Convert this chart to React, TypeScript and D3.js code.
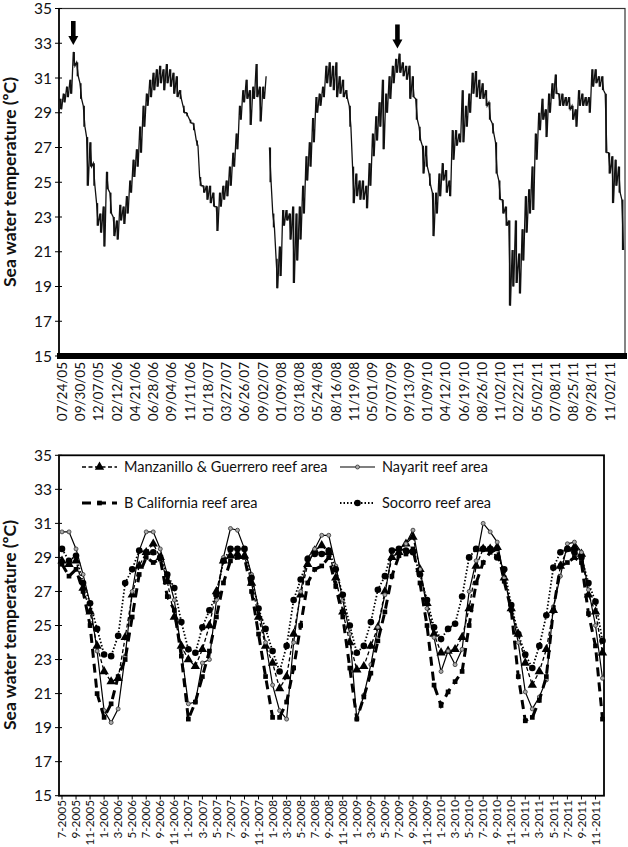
import * as d3 from 'd3';

// ---- top chart: hourly record, read as high/low pairs every ~3.3 px ----
const topTickLabels = [
  '07/24/05', '09/30/05', '12/07/05', '02/12/06', '04/21/06', '06/28/06', '09/04/06', '11/11/06',
  '01/18/07', '03/27/07', '06/26/07', '09/02/07', '01/09/08', '03/18/08', '05/24/08', '08/16/08',
  '11/19/08', '05/01/09', '07/07/09', '09/13/09', '01/09/10', '04/12/10', '06/19/10', '08/26/10',
  '11/02/10', '02/22/11', '05/02/11', '07/08/11', '08/25/11', '09/28/11', '11/02/11',
];

const topHigh: (number | null)[] = [
  29.8, 30.1, 30.5, 30.9, 32.5, 31.9, 30.7, 29.4, 27.6, 27.3, 26.1, 23.8, 23.2, 23.6, 25.6, 24.4,
  23.0, 22.8, 23.7, 23.6, 24.2, 25.1, 26.3, 26.9, 28.2, 29.4, 30.1, 30.9, 31.3, 31.5, 31.7, 31.5,
  31.8, 31.5, 31.3, 31.1, 30.3, 29.4, 29.0, 28.6, 28.4, 27.4, 25.3, 24.8, 24.8, 24.8, 24.4, 23.6,
  24.4, 24.8, 25.1, 25.9, 26.7, 27.8, 29.4, 30.3, 30.9, 30.3, 30.5, 31.8, 30.5, 30.5, 31.1,
  27.0, 23.2, 20.6, 21.3, 23.4, 23.4, 23.2, 23.6, 23.2, 23.6, 24.8, 26.5, 27.3,
  28.7, 29.9, 30.1, 30.5, 31.7, 31.9, 31.7, 31.9, 31.1, 30.9, 30.3, 29.4, 25.9, 25.5, 25.1, 25.1,
  24.8, 26.1, 27.8, 28.8, 29.6, 30.9, 30.1, 31.1, 31.7, 32.1, 32.4, 31.9, 31.7, 31.7, 31.1, 29.8,
  28.2, 27.1, 27.1, 25.5, 24.4, 24.4, 25.5, 26.1, 25.7, 25.1, 28.0, 28.0, 27.8, 30.3, 29.4, 30.1,
  31.3, 31.4, 30.9, 30.7, 30.3, 29.6, 28.4, 27.3, 25.1, 24.0, 23.6, 22.8, 21.1, 22.8, 20.9, 22.3,
  24.2, 24.6, 25.9, 27.8, 29.0, 29.8, 29.2, 30.1, 30.7, 31.2, 30.1, 30.1, 29.9, 29.9, 29.4, 29.2,
  30.3, 30.1, 29.9, 29.9, 31.5, 31.5, 31.1, 31.1, 30.1, 26.7, 26.5, 26.3, 25.9, 24.0,
];

const topLow: (number | null)[] = [
  29.2, 29.6, 29.9, 30.1, 31.7, 31.1, 29.8, 28.2, 24.8, 25.9, 24.8, 22.5, 22.1, 21.3, 24.6, 23.2,
  21.9, 21.7, 22.8, 22.6, 23.2, 24.4, 25.3, 25.9, 26.7, 28.2, 29.4, 29.9, 30.3, 30.5, 30.7, 30.3,
  30.7, 30.5, 30.1, 29.9, 29.8, 29.0, 28.8, 28.4, 28.0, 27.1, 24.8, 24.4, 24.0, 23.8, 23.6, 22.2,
  23.6, 24.0, 24.2, 24.8, 25.9, 26.9, 28.6, 29.6, 29.8, 28.3, 29.8, 29.9, 28.5, 29.8, null,
  25.0, 22.4, 18.9, 19.6, 22.5, 22.8, 21.7, 19.2, 20.5, 21.7, 23.2, 25.1, 25.9,
  27.3, 29.0, 29.4, 29.9, 30.7, 30.5, 30.3, 29.9, 30.1, 29.9, 29.8, 28.2, 23.8, 24.2, 24.0, 24.0,
  23.5, 24.8, 26.5, 27.4, 28.2, 26.9, 29.0, 29.8, 30.7, 31.3, 31.3, 31.1, 30.9, 29.8, 29.9, 28.6,
  27.4, 25.5, 25.9, 24.8, 21.9, 23.2, 24.2, 25.1, 24.4, 24.2, 26.3, 27.1, 27.3, 27.3, 28.2, 29.0,
  30.1, 29.9, 29.8, 29.8, 29.4, 28.6, 27.8, 25.5, 24.0, 23.2, 22.5, 17.9, 19.0, 19.2, 18.6, 20.5,
  22.1, 23.2, 23.4, 26.3, 28.0, 28.6, 27.6, 29.0, 29.8, 30.1, 29.4, 29.4, 29.4, 29.2, 28.6, 28.2,
  29.4, 29.4, 29.4, 29.0, 30.5, 30.7, 30.5, 30.3, 26.7, 25.5, 23.8, 24.8, 24.4, 21.1,
];

const arrowMarks = [
  { index: 4, value: 32.9 },
  { index: 101.5, value: 32.7 },
];

// ---- bottom chart: monthly means, 7-2005 .. 12-2011 ----
const monthTickLabels = [
  '7-2005', '9-2005', '11-2005',
  '1-2006', '3-2006', '5-2006', '7-2006', '9-2006', '11-2006',
  '1-2007', '3-2007', '5-2007', '7-2007', '9-2007', '11-2007',
  '1-2008', '3-2008', '5-2008', '7-2008', '9-2008', '11-2008',
  '1-2009', '3-2009', '5-2009', '7-2009', '9-2009', '11-2009',
  '1-2010', '3-2010', '5-2010', '7-2010', '9-2010', '11-2010',
  '1-2011', '3-2011', '5-2011', '7-2011', '9-2011', '11-2011',
];

const manzanillo = [
  28.8, 28.6, 28.8, 27.2, 25.8, 23.8,
  22.3, 21.7, 21.9, 24.3, 26.8, 28.5, 29.3, 29.8, 29.0, 27.6, 25.5, 23.8,
  23.0, 22.6, 23.6, 25.0, 27.0, 28.8, 29.1, 29.2, 29.1, 27.5, 25.5, 23.8,
  22.8, 21.3, 22.0, 24.5, 26.8, 28.6, 29.4, 29.7, 29.3, 27.8, 25.8, 24.0,
  22.4, 22.6, 23.8, 24.9, 27.0, 29.0, 29.3, 29.8, 30.2, 28.3, 26.3, 24.5,
  23.4, 23.5, 23.6, 24.3, 26.0, 28.5, 29.5, 29.5, 29.6, 27.8, 26.0, 24.5,
  22.8, 21.5, 22.3, 23.6, 25.9, 28.5, 29.5, 29.6, 29.2, 26.8, 25.8, 23.4,
];

const nayarit = [
  30.5, 30.5, 29.5, 28.0, 26.3, 23.5,
  20.0, 19.3, 20.1, 23.2, 27.0, 29.4, 30.5, 30.5, 29.5, 28.0, 26.5, 23.5,
  20.4, 20.5, 22.8, 23.0, 26.5, 29.0, 30.7, 30.6, 29.5, 28.0, 26.0, 24.0,
  21.5, 20.0, 19.5, 24.0, 27.0, 29.0, 29.5, 30.3, 30.3, 28.5, 26.5, 24.5,
  19.5, 20.9, 22.7, 24.9, 26.8, 29.3, 29.5, 29.8, 30.6, 28.3, 26.0, 24.3,
  22.3, 23.5, 22.7, 23.6, 27.0, 28.8, 31.0, 30.5, 29.9, 27.8, 26.0, 24.0,
  21.1, 20.1, 20.8, 21.8, 26.1, 27.9, 29.8, 29.9, 29.3, 27.1, 25.0, 21.9,
];

const bCalifornia = [
  28.6, 27.9, 28.3, 27.0, 25.0, 21.0,
  19.6, 20.4, 22.0, 23.0, 25.5, 28.0, 29.0, 28.7, 28.9, 26.7, 25.9, 23.2,
  19.5, 20.5, 22.0, 23.5, 25.5, 27.5, 28.8, 29.0, 29.0, 27.0, 24.5, 22.0,
  19.6, 19.6, 20.5, 22.5, 25.0, 27.5, 28.3, 28.5, 29.0, 27.3, 25.5, 22.5,
  19.5, 20.8, 22.2, 24.1, 25.8, 27.9, 29.1, 29.2, 29.5, 27.5, 25.0, 21.5,
  20.3, 21.1, 21.7, 22.3, 25.0, 27.5, 28.7, 29.3, 29.5, 27.6, 25.9, 22.0,
  19.4, 19.6, 20.6, 22.0, 25.9, 28.5, 28.7, 29.0, 28.7, 25.7, 23.8, 19.5,
];

const socorro = [
  29.5, 28.8, 29.1, 27.5, 26.3, 24.8,
  23.3, 23.2, 24.4, 27.5, 28.3, 29.4, 29.3, 29.3, 29.0, 28.0, 27.2, 25.2,
  23.6, 23.4, 24.9, 25.9, 26.8, 28.8, 29.5, 29.5, 29.5, 27.8, 26.0, 24.8,
  23.5, 22.3, 23.8, 26.5, 27.7, 28.9, 29.2, 29.2, 29.4, 28.3, 26.8, 25.0,
  23.4, 23.8, 25.2, 27.1, 27.9, 29.4, 29.5, 29.4, 29.3, 28.0, 26.5, 24.9,
  24.2, 24.8, 25.1, 26.7, 29.0, 29.5, 29.5, 29.5, 29.0, 28.3, 26.2, 24.5,
  23.3, 22.5, 23.8, 25.6, 28.4, 29.3, 29.5, 29.3, 29.0, 27.5, 26.4, 24.1,
];

const yTicks = [15, 17, 19, 21, 23, 25, 27, 29, 31, 33, 35];
const yTitle = 'Sea water temperature (ºC)';
const font = 'Lato, Calibri, "Open Sans", sans-serif';

type Series = {
  name: string;
  values: number[];
  width: number;
  dash: string;
  marker: 'triangle' | 'dot' | 'square' | 'circle';
};

const series: Series[] = [
  { name: 'Manzanillo & Guerrero reef area', values: manzanillo, width: 1.3, dash: '4,2.5', marker: 'triangle' },
  { name: 'Nayarit reef area', values: nayarit, width: 1.2, dash: '', marker: 'dot' },
  { name: 'B California reef area', values: bCalifornia, width: 3, dash: '9,6', marker: 'square' },
  { name: 'Socorro reef area', values: socorro, width: 1.8, dash: '1.5,2', marker: 'circle' },
];

function Marker({ kind, x, y }: { kind: Series['marker']; x: number; y: number }) {
  if (kind === 'triangle') {
    return <path d={d3.symbol(d3.symbolTriangle, 38)() || ''} transform={`translate(${x},${y})`} fill="#000" />;
  }
  if (kind === 'square') {
    return <path d={d3.symbol(d3.symbolSquare, 22)() || ''} transform={`translate(${x},${y})`} fill="#000" />;
  }
  if (kind === 'circle') {
    return <circle cx={x} cy={y} r={3.3} fill="#000" />;
  }
  return <circle cx={x} cy={y} r={2} fill="#aaa" stroke="#333" strokeWidth={0.8} />;
}

function YAxis({ y, left, titleY }: { y: d3.ScaleLinear<number, number>; left: number; titleY: number }) {
  return (
    <g>
      {yTicks.map(t => (
        <g key={t}>
          <line x1={left - 4} x2={left + 3} y1={y(t)} y2={y(t)} stroke="#000" strokeWidth={1} />
          <text x={left - 7} y={y(t)} dy="0.36em" textAnchor="end" fontSize={15.5} fontFamily={font} fill="#111">
            {t}
          </text>
        </g>
      ))}
      <text
        transform={`translate(16,${titleY}) rotate(-90)`}
        textAnchor="middle"
        fontSize={17.5}
        fontWeight="bold"
        fontFamily={font}
        fill="#111"
      >
        {yTitle}
      </text>
    </g>
  );
}

export default function App() {
  // top chart
  const topY = d3.scaleLinear().domain([15, 35]).range([356, 8.5]);
  const topX = d3.scaleLinear().domain([0, topHigh.length - 0.5]).range([60, 623.5]);
  const topLabelX = d3.scalePoint<string>().domain(topTickLabels).range([62, 610]);

  const zigzag: { x: number; v: number | null }[] = [];
  topHigh.forEach((h, i) => {
    zigzag.push({ x: topX(i), v: h });
    zigzag.push({ x: topX(i + 0.5), v: topLow[i] });
  });
  const topLine = d3
    .line<{ x: number; v: number | null }>()
    .defined(d => d.v != null)
    .x(d => d.x)
    .y(d => topY(d.v as number));

  // bottom chart
  const botY = d3.scaleLinear().domain([15, 35]).range([795.7, 455.3]);
  const botX = d3.scaleLinear().domain([0, 77]).range([62, 602.5]);
  const tickX = d3.scalePoint<string>().domain(monthTickLabels).range([botX(0), botX(76)]);
  const monthLine = d3
    .line<number>()
    .x((_, i) => botX(i))
    .y(d => botY(d));

  const legend = [
    { s: series[0], x: 82, y: 467 },
    { s: series[1], x: 340, y: 467 },
    { s: series[2], x: 82, y: 503 },
    { s: series[3], x: 340, y: 503 },
  ];

  return (
    <svg width={628} height={847} style={{ position: 'absolute', left: 0, top: 0, background: '#fff' }}>
      {/* ---------- top panel ---------- */}
      <rect x={59} y={8.5} width={566} height={347.5} fill="none" stroke="#333" strokeWidth={1.2} />
      {/* daily range of the record as short vertical strokes, then the trace itself */}
      {topHigh.map((h, i) => {
        const l = topLow[i];
        if (h == null || l == null) return null;
        const x = topX(i + 0.25);
        return <line key={i} x1={x} x2={x} y1={topY(h)} y2={topY(l)} stroke="#111" strokeWidth={1.6} />;
      })}
      <path d={topLine(zigzag) || ''} fill="none" stroke="#111" strokeWidth={1.3} />
      {arrowMarks.map((a, i) => {
        const ax = topX(a.index);
        const tip = topY(a.value);
        return (
          <g key={i}>
            <rect x={ax - 2.3} y={tip - 24} width={4.6} height={16} fill="#000" />
            <path d={`M${ax - 5},${tip - 9}L${ax + 5},${tip - 9}L${ax},${tip}Z`} fill="#000" />
          </g>
        );
      })}
      <line x1={59} x2={59} y1={8.5} y2={356} stroke="#000" strokeWidth={1.6} />
      <line x1={57} x2={627} y1={topY(15)} y2={topY(15)} stroke="#000" strokeWidth={6} />
      <YAxis y={topY} left={59} titleY={182} />
      {topTickLabels.map(l => (
        <text
          key={l}
          transform={`translate(${topLabelX(l)},362) rotate(-90)`}
          dy="0.35em"
          textAnchor="end"
          fontSize={13.5}
          fontFamily={font}
          fill="#111"
        >
          {l}
        </text>
      ))}

      {/* ---------- bottom panel ---------- */}
      <rect x={59} y={455.3} width={545} height={340.4} fill="none" stroke="#000" strokeWidth={1.8} />
      {series.map(s => (
        <g key={s.name}>
          <path
            d={monthLine(s.values) || ''}
            fill="none"
            stroke="#000"
            strokeWidth={s.width}
            strokeDasharray={s.dash || undefined}
          />
          {s.values.map((v, i) => (
            <Marker key={i} kind={s.marker} x={botX(i)} y={botY(v)} />
          ))}
        </g>
      ))}
      <YAxis y={botY} left={59} titleY={625} />
      {monthTickLabels.map(l => (
        <g key={l}>
          <line x1={tickX(l)} x2={tickX(l)} y1={795.7} y2={799.5} stroke="#000" strokeWidth={1} />
          <text
            transform={`translate(${tickX(l)},800) rotate(-90)`}
            dy="0.35em"
            textAnchor="end"
            fontSize={11.8}
            fontFamily={font}
            fill="#111"
          >
            {l}
          </text>
        </g>
      ))}

      {/* legend */}
      {legend.map(({ s, x, y }) => (
        <g key={s.name}>
          <line
            x1={x}
            x2={x + 35}
            y1={y}
            y2={y}
            stroke="#000"
            strokeWidth={s.width}
            strokeDasharray={s.dash || undefined}
          />
          <Marker kind={s.marker} x={x + 17.5} y={y} />
          <text x={x + 42} y={y} dy="0.35em" fontSize={14.5} fontFamily={font} fill="#111">
            {s.name}
          </text>
        </g>
      ))}
    </svg>
  );
}
